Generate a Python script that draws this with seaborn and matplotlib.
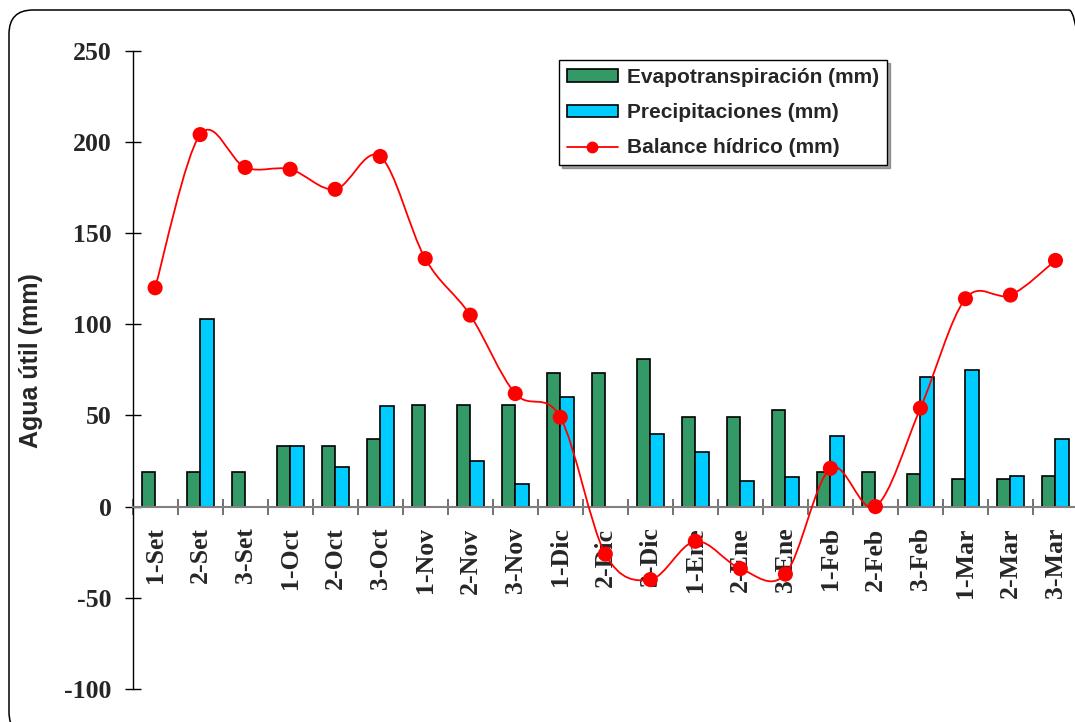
import numpy as np
import pandas as pd
import matplotlib
matplotlib.use("Agg")
import matplotlib.pyplot as plt
import seaborn as sns
from matplotlib.path import Path
from matplotlib.patches import PathPatch, Patch, FancyBboxPatch
from matplotlib.lines import Line2D

# ---------------- data ----------------
periodos = ['1-Set', '2-Set', '3-Set', '1-Oct', '2-Oct', '3-Oct', '1-Nov', '2-Nov', '3-Nov',
            '1-Dic', '2-Dic', '3-Dic', '1-Ene', '2-Ene', '3-Ene', '1-Feb', '2-Feb', '3-Feb',
            '1-Mar', '2-Mar', '3-Mar']
evapotranspiracion = [19, 19, 19, 33, 33, 37, 56, 56, 56, 73, 73, 81, 49, 49, 53, 19, 19, 18, 15, 15, 17]
precipitaciones = [np.nan, 103, np.nan, 33, 22, 55, np.nan, 25, 12.5, 60, np.nan, 40, 30, 14, 16,
                   39, np.nan, 71, 75, 17, 37]
balance = [120, 204, 186, 185, 174, 192, 136, 105, 62, 49, -26, -40, -19, -34, -37, 21, 0, 54,
           114, 116, 135]
series = ['Evapotranspiración (mm)', 'Precipitaciones (mm)', 'Balance hídrico (mm)']
y_ticks = [-100, -50, 0, 50, 100, 150, 200, 250]
ylabel = 'Agua útil (mm)'

GREEN = '#339966'
BLUE = '#00CCFF'
RED = '#FF0000'

sns.set_theme(style='white')
plt.rcParams['font.family'] = ['Liberation Sans', 'DejaVu Sans']
plt.rcParams['font.weight'] = 'bold'

W, H = 1075, 722
fig = plt.figure(figsize=(W / 100, H / 100), dpi=100)
fig.patch.set_facecolor('white')

# rounded chart-area frame (in inches; 1 inch = 100 px); right/bottom edges lie outside the image
frame = FancyBboxPatch((0.09, -0.14), 10.84, 7.26, boxstyle='round,pad=0,rounding_size=0.24',
                       transform=fig.dpi_scale_trans, facecolor='none', edgecolor='black',
                       linewidth=1.1, zorder=0)
fig.patches.append(frame)

ax = fig.add_axes([132.6 / W, 33 / H, (1078 - 132.6) / W, (671.3 - 33) / H])
ax.set_facecolor('none')

df = pd.DataFrame({
    'Periodo': periodos * 2,
    'Serie': [series[0]] * len(periodos) + [series[1]] * len(periodos),
    'Valor': evapotranspiracion + precipitaciones,
}).dropna()

sns.barplot(data=df, x='Periodo', y='Valor', hue='Serie', order=periodos,
            hue_order=series[:2], palette=[GREEN, BLUE], width=0.6, dodge=True,
            edgecolor='black', linewidth=1.2, errorbar=None, legend=False, ax=ax,
            saturation=1)


# smoothed balance line (Excel-like smoothing: Catmull-Rom as cubic Bezier)
def smooth_path(xs, ys):
    pts = np.column_stack([xs, ys]).astype(float)
    n = len(pts)
    verts = [pts[0]]
    codes = [Path.MOVETO]
    for i in range(n - 1):
        p0 = pts[i - 1] if i > 0 else pts[i]
        p1 = pts[i]
        p2 = pts[i + 1]
        p3 = pts[i + 2] if i + 2 < n else pts[i + 1]
        c1 = p1 + (p2 - p0) / 6.0
        c2 = p2 - (p3 - p1) / 6.0
        verts += [c1, c2, p2]
        codes += [Path.CURVE4] * 3
    return Path(verts, codes)


xpos = np.arange(len(periodos))
ax.add_patch(PathPatch(smooth_path(xpos, balance), facecolor='none', edgecolor=RED,
                       linewidth=1.3, zorder=5, clip_on=False))
sns.scatterplot(x=xpos, y=balance, color=RED, s=118, edgecolor='none', zorder=6, ax=ax,
                clip_on=False)

# axes styling
ax.set_xlim(-0.5, len(periodos) - 0.5)
ax.set_ylim(-100, 250)
ax.set_xlabel('')
ax.set_ylabel('')
for s in ['top', 'right']:
    ax.spines[s].set_visible(False)
ax.spines['left'].set_color('black')
ax.spines['left'].set_linewidth(1.0)
ax.spines['bottom'].set_position(('data', 0))
ax.spines['bottom'].set_color('0.5')
ax.spines['bottom'].set_linewidth(1.5)
ax.spines['bottom'].set_zorder(3)

ax.set_yticks(y_ticks)
ax.set_yticklabels([str(v) for v in y_ticks])
ax.tick_params(axis='y', direction='inout', length=11, width=1, color='black', pad=9.5,
               labelsize=18.5, labelfontfamily='Liberation Serif', left=True)

ax.set_xticks(xpos)
ax.set_xticklabels(periodos, rotation=90, va='top', ha='center')
ax.set_xticks(np.arange(-0.5, len(periodos), 1), minor=True)
ax.tick_params(axis='x', which='major', length=0, pad=15, labelsize=18.5,
               labelfontfamily='Liberation Serif', bottom=True)
ax.tick_params(axis='x', which='minor', direction='inout', length=11, width=1.2,
               color='0.35', bottom=True)
ax.grid(False)

fig.text(31.5 / W, 1 - 361 / H, ylabel, rotation=90, ha='center', va='center',
         fontsize=18, fontweight='bold', family='Liberation Sans')

handles = [Patch(facecolor=GREEN, edgecolor='black', linewidth=1.2),
           Patch(facecolor=BLUE, edgecolor='black', linewidth=1.2),
           Line2D([0], [0], color=RED, linewidth=1.3, marker='o', markersize=7.5,
                  markeredgecolor=RED)]
leg = ax.legend(handles, series, loc='upper left', bbox_to_anchor=(559 / W, 1 - 60 / H),
                bbox_transform=fig.transFigure, borderaxespad=0, frameon=True,
                fancybox=False, shadow=True, edgecolor='black', framealpha=1,
                prop={'family': 'Liberation Sans', 'weight': 'bold', 'size': 15},
                handlelength=2.45, handleheight=0.54, handletextpad=0.42,
                labelspacing=0.78, borderpad=0.38)
leg.get_frame().set_linewidth(1.0)
leg.set_zorder(10)

fig.savefig('out.png', dpi=100)
